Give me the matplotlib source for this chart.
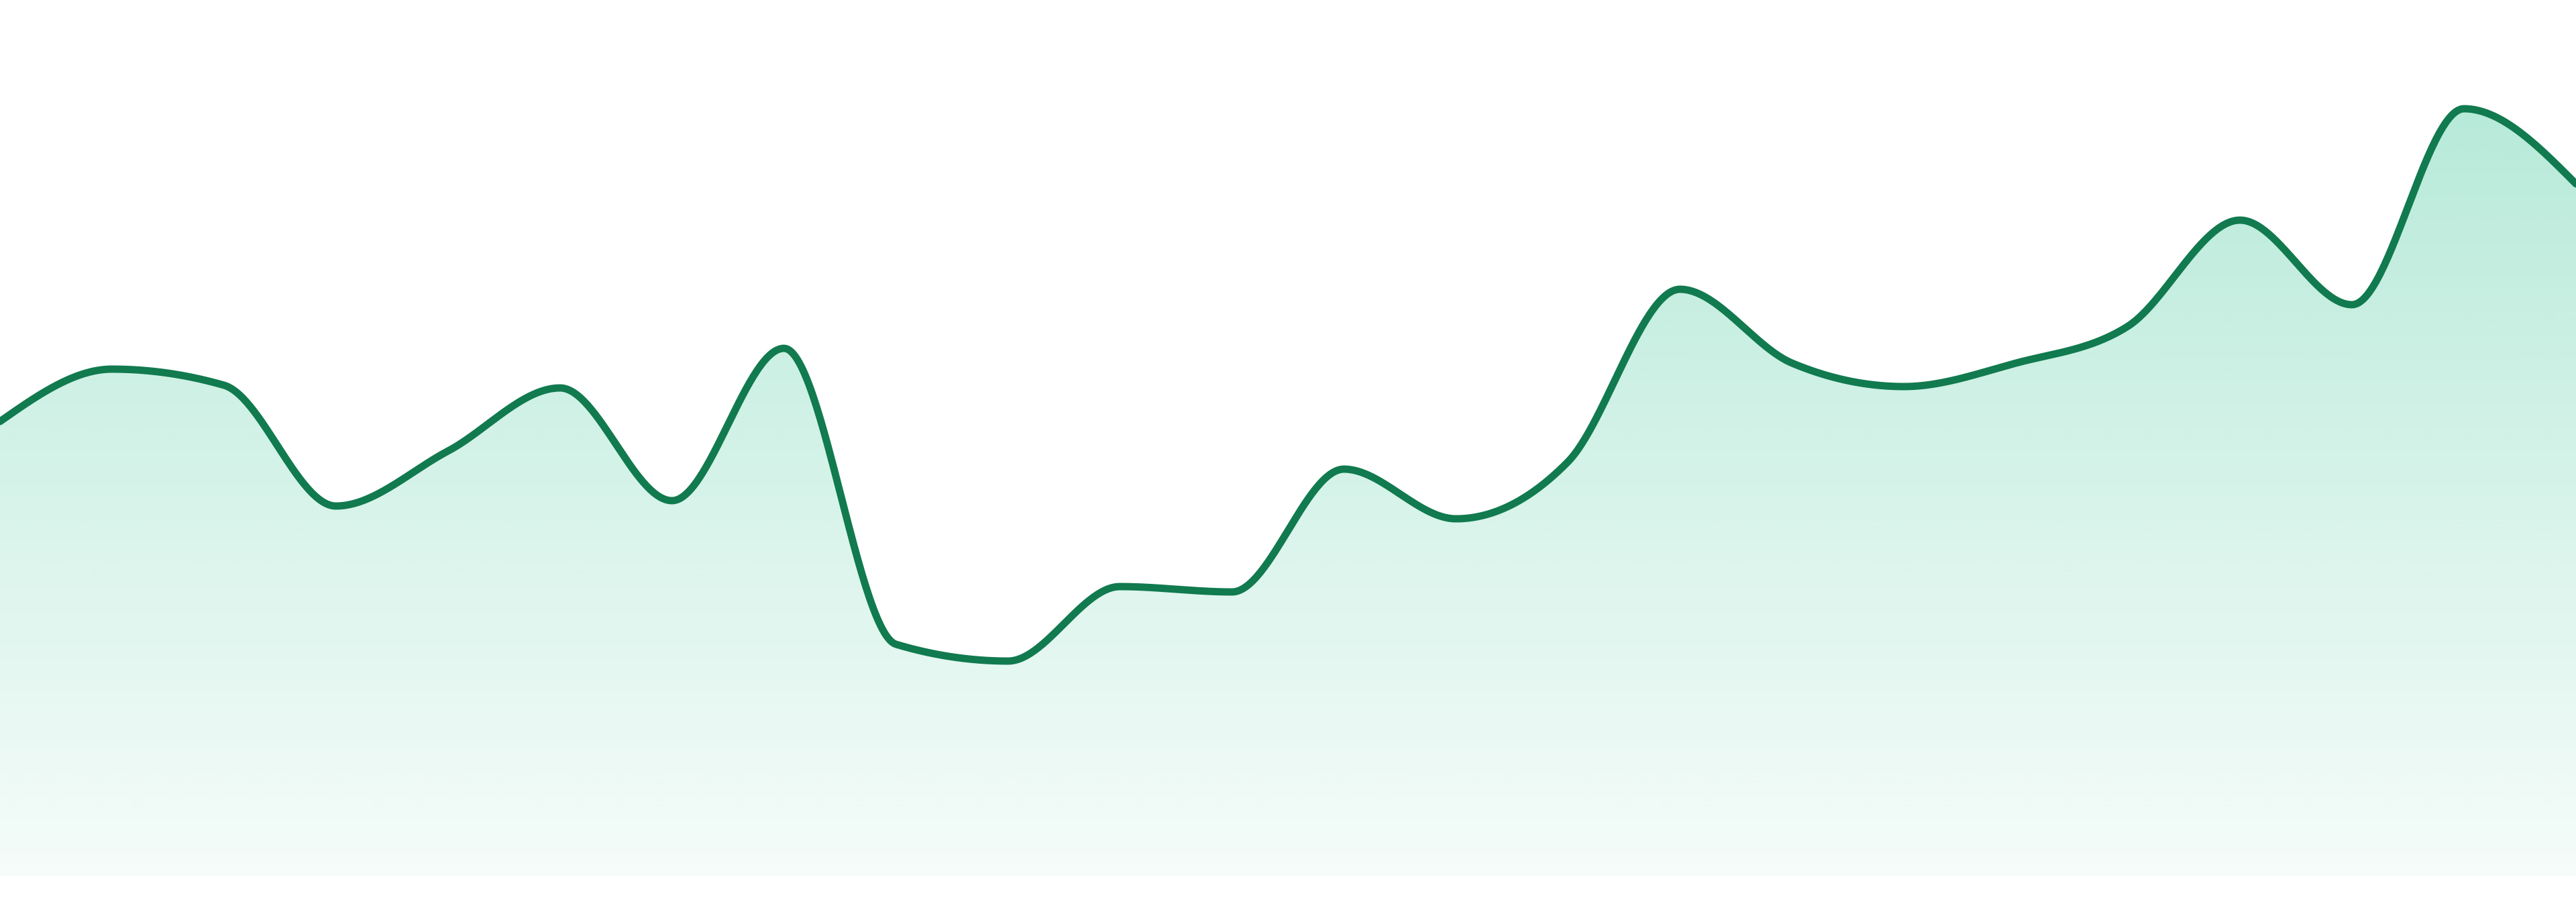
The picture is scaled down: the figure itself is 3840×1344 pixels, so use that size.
import numpy as np
import matplotlib
matplotlib.use("Agg")
import matplotlib.pyplot as plt

# one value per period, 24 periods
periods = list(range(24))
values = [67.7, 75.5, 73.1, 55.1, 63.3, 72.7, 55.9, 78.6, 34.5, 32.0, 43.1, 42.3,
          60.6, 53.2, 61.7, 87.4, 76.4, 72.9, 76.4, 81.9, 97.7, 85.1, 114.3, 103.1]

line_color = "#117a4f"
fill_rgb = (16 / 255, 185 / 255, 129 / 255)


def monotone_x(xs, ys, steps=60):
    # same curve as d3.curveMonotoneX
    xs = np.asarray(xs, float)
    ys = np.asarray(ys, float)
    n = len(xs)
    t = np.zeros(n)
    sgn = lambda v: -1.0 if v < 0 else 1.0
    for i in range(1, n - 1):
        h0 = xs[i] - xs[i - 1]
        h1 = xs[i + 1] - xs[i]
        s0 = (ys[i] - ys[i - 1]) / h0
        s1 = (ys[i + 1] - ys[i]) / h1
        p = (s0 * h1 + s1 * h0) / (h0 + h1)
        t[i] = (sgn(s0) + sgn(s1)) * min(abs(s0), abs(s1), 0.5 * abs(p))
    h = xs[1] - xs[0]
    t[0] = (3 * (ys[1] - ys[0]) / h - t[1]) / 2
    h = xs[-1] - xs[-2]
    t[-1] = (3 * (ys[-1] - ys[-2]) / h - t[-2]) / 2
    px, py = [], []
    u = np.linspace(0, 1, steps)
    for i in range(n - 1):
        x0, x1, y0, y1 = xs[i], xs[i + 1], ys[i], ys[i + 1]
        dx = (x1 - x0) / 3
        cx = [x0, x0 + dx, x1 - dx, x1]
        cy = [y0, y0 + dx * t[i], y1 - dx * t[i + 1], y1]
        b = [(1 - u) ** 3, 3 * u * (1 - u) ** 2, 3 * u ** 2 * (1 - u), u ** 3]
        bx = sum(b[k] * cx[k] for k in range(4))
        by = sum(b[k] * cy[k] for k in range(4))
        if i > 0:
            bx, by = bx[1:], by[1:]
        px.append(bx)
        py.append(by)
    return np.concatenate(px), np.concatenate(py)


fig = plt.figure(figsize=(38.4, 13.44), dpi=100)
ax = fig.add_axes([0, 39 / 1344, 1, 1305 / 1344])
ax.set_xlim(0, 23)
ax.set_ylim(0, 130.5)
ax.axis("off")

cx, cy = monotone_x(periods, values)

# gradient fill under the curve
poly = ax.fill_between(cx, cy, 0, color="none", lw=0)
top = max(values)
grad = np.zeros((256, 1, 4))
alphas = np.linspace(0.04, 0.30, 256)
grad[:, 0, 0] = fill_rgb[0]
grad[:, 0, 1] = fill_rgb[1]
grad[:, 0, 2] = fill_rgb[2]
grad[:, 0, 3] = alphas
img = ax.imshow(grad, extent=[0, 23, 0, top], origin="lower", aspect="auto",
                interpolation="bilinear", zorder=1)
img.set_clip_path(poly.get_paths()[0], transform=ax.transData)

ax.plot(cx, cy, color=line_color, lw=7.9, solid_capstyle="round",
        solid_joinstyle="round", zorder=2)

fig.savefig("out.png", dpi=100, facecolor="white")
